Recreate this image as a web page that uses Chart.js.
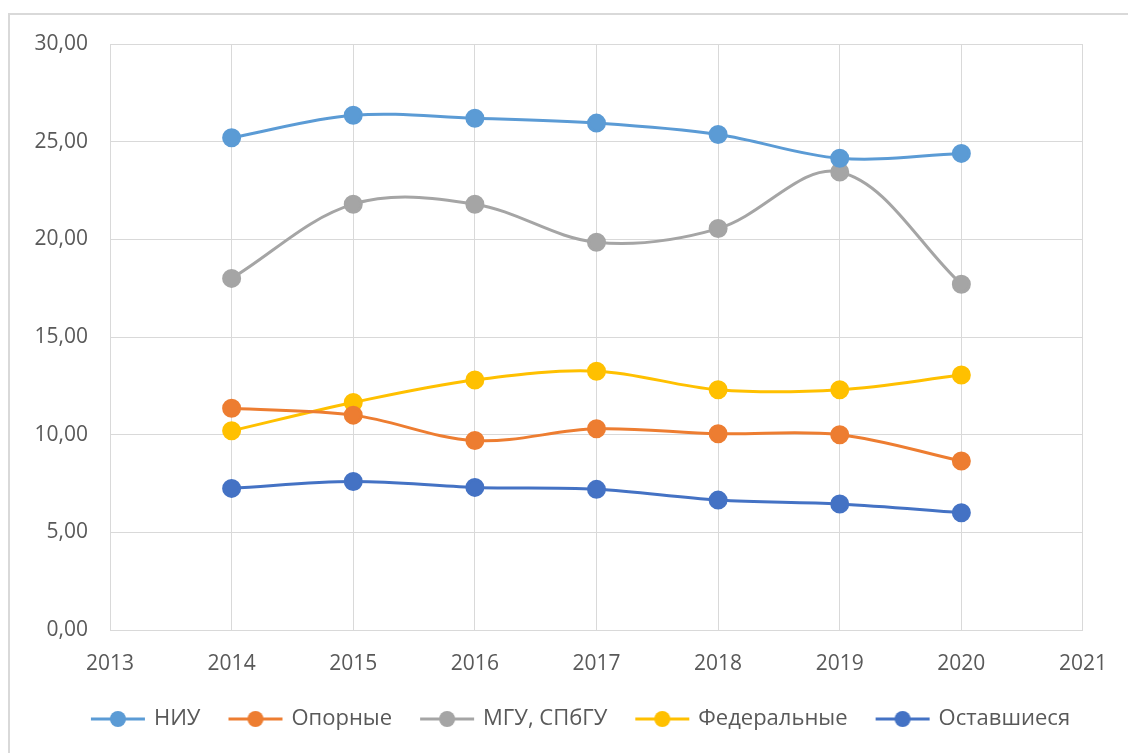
<!DOCTYPE html>
<html>
<head>
<meta charset="utf-8">
<script src="https://cdn.jsdelivr.net/npm/chart.js@4"></script>
<style>
  html, body { margin: 0; padding: 0; background: #fff; }
  #wrap { position: relative; width: 1128px; height: 753px; }
</style>
</head>
<body>
<div id="wrap"><canvas id="chart" width="1128" height="753"></canvas></div>
<script>
// данные с графика
const years = [2014, 2015, 2016, 2017, 2018, 2019, 2020];
const seriesNames = ['НИУ', 'Опорные', 'МГУ, СПбГУ', 'Федеральные', 'Оставшиеся'];
const niu = [25.2, 26.35, 26.2, 25.95, 25.37, 24.15, 24.4];
const opornye = [11.35, 11.0, 9.7, 10.3, 10.05, 10.0, 8.65];
const msu = [18.0, 21.8, 21.8, 19.85, 20.55, 23.45, 17.7];
const federal = [10.2, 11.65, 12.8, 13.25, 12.3, 12.3, 13.05];
const rest = [7.25, 7.6, 7.3, 7.2, 6.65, 6.45, 6.0];
const colors = ['#5B9BD5', '#ED7D31', '#A5A5A5', '#FFC000', '#4472C4'];

const FONT = 'Open Sans';
const GRID = '#d9d9d9';

// значок легенды: линия с кружком
function legendIcon(color) {
  const c = document.createElement('canvas');
  c.width = 56; c.height = 20;
  const g = c.getContext('2d');
  g.strokeStyle = color;
  g.lineWidth = 3;
  g.beginPath(); g.moveTo(1, 10); g.lineTo(55, 10); g.stroke();
  g.fillStyle = color;
  g.beginPath(); g.arc(28, 10, 8, 0, Math.PI * 2); g.fill();
  return c;
}

const makeSet = (label, values, color) => ({
  label,
  data: values.map((v, i) => ({ x: years[i], y: v })),
  borderColor: color,
  backgroundColor: color,
  pointBackgroundColor: color,
  pointBorderColor: color,
  borderWidth: 3,
  pointRadius: 8,
  pointHoverRadius: 8,
  tension: 0.35,
  fill: false,
});

const datasets = [
  makeSet(seriesNames[0], niu, colors[0]),
  makeSet(seriesNames[1], opornye, colors[1]),
  makeSet(seriesNames[2], msu, colors[2]),
  makeSet(seriesNames[3], federal, colors[3]),
  makeSet(seriesNames[4], rest, colors[4]),
];

const outerBorder = {
  id: 'outerBorder',
  beforeDraw(chart) {
    const ctx = chart.ctx;
    ctx.save();
    ctx.strokeStyle = GRID;
    ctx.lineWidth = 2;
    ctx.strokeRect(9, 14, 1140, 760);
    ctx.restore();
  },
};

// легенда в оригинале центрирована по всей ширине, а не по области графика
const shiftLegend = {
  id: 'shiftLegend',
  afterLayout(chart) {
    chart.legend.left += 40;
    chart.legend.right += 40;
  },
};

new Chart(document.getElementById('chart'), {
  type: 'line',
  data: { datasets },
  plugins: [outerBorder, shiftLegend],
  options: {
    responsive: false,
    animation: false,
    layout: { padding: { left: 0, top: 44, right: 45, bottom: 13 } },
    plugins: {
      tooltip: { enabled: false },
      legend: {
        position: 'bottom',
        labels: {
          font: { family: FONT, size: 22 },
          color: '#595959',
          usePointStyle: true,
          pointStyleWidth: 50,
          padding: 30,
          generateLabels(chart) {
            return chart.data.datasets.map((ds, i) => ({
              text: ds.label,
              pointStyle: legendIcon(colors[i]),
              fillStyle: colors[i],
              strokeStyle: colors[i],
              lineWidth: 0,
              fontColor: '#595959',
              datasetIndex: i,
              hidden: false,
            }));
          },
        },
      },
    },
    scales: {
      x: {
        type: 'linear',
        min: 2013,
        max: 2021,
        afterFit(scale) { scale.height = 48; },
        ticks: {
          stepSize: 1,
          padding: 21,
          color: '#595959',
          font: { family: FONT, size: 21 },
          callback: (v) => String(v),
        },
        grid: { color: GRID, drawTicks: false },
        border: { color: GRID },
      },
      y: {
        min: 0,
        max: 30,
        afterFit(scale) { scale.width = 110; },
        ticks: {
          stepSize: 5,
          padding: 22,
          color: '#595959',
          font: { family: FONT, size: 21 },
          callback: (v) => v.toFixed(2).replace('.', ','),
        },
        grid: { color: GRID, drawTicks: false },
        border: { color: GRID },
      },
    },
  },
});
</script>
</body>
</html>
